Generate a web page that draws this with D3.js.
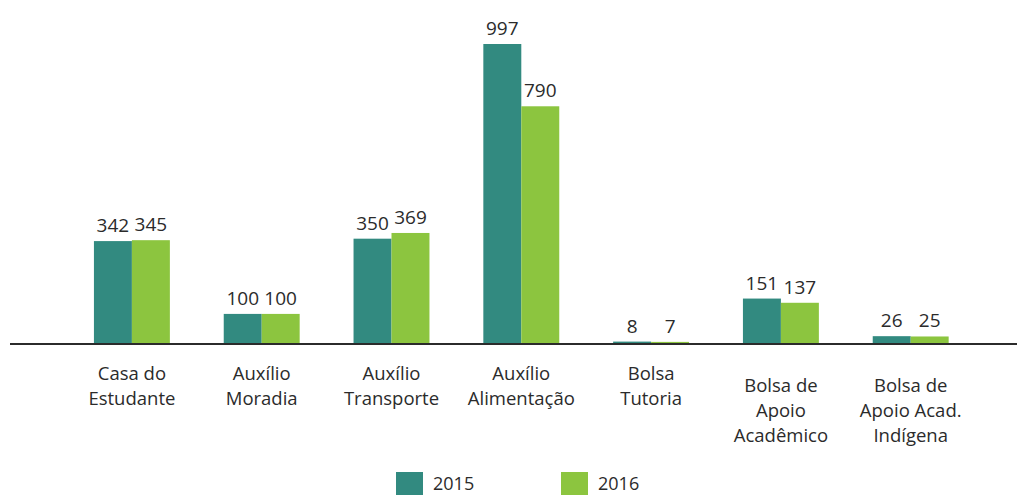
<!DOCTYPE html>
<html>
<head>
<meta charset="utf-8">
<script src="https://cdn.jsdelivr.net/npm/d3@7"></script>
<style>
  body { margin: 0; background: #fff; }
  svg text { font-family: "Open Sans", sans-serif; fill: #2b2b2b; }
</style>
</head>
<body>
<div id="chart"></div>
<script>
// categories (label lines) and values per year
const categories = [
  ['Casa do', 'Estudante'],
  ['Auxílio', 'Moradia'],
  ['Auxílio', 'Transporte'],
  ['Auxílio', 'Alimentação'],
  ['Bolsa', 'Tutoria'],
  ['Bolsa de', 'Apoio', 'Acadêmico'],
  ['Bolsa de', 'Apoio Acad.', 'Indígena']
];
const years = ['2015', '2016'];
const values2015 = [342, 100, 350, 997, 8, 151, 26];
const values2016 = [345, 100, 369, 790, 7, 137, 25];
const colors = ['#328a80', '#8cc53f'];

const width = 1017;
const height = 495;
const baseline = 344;

const svg = d3.select('#chart')
  .append('svg')
  .attr('width', width)
  .attr('height', height);

const keys = categories.map((c) => c.join(' '));
const x = d3.scaleBand()
  .domain(keys)
  .range([67, 975.6])
  .paddingInner(0.415)
  .paddingOuter(0.2075);
const xSub = d3.scaleBand().domain(years).range([0, x.bandwidth()]);
const y = d3.scaleLinear().domain([0, 997]).range([baseline, 44]);

const rows = keys.map((k, i) => ({ key: k, lines: categories[i], vals: [values2015[i], values2016[i]] }));

const groups = svg.append('g')
  .selectAll('g')
  .data(rows)
  .join('g')
  .attr('transform', (d) => `translate(${x(d.key)},0)`);

groups.selectAll('rect')
  .data((d) => d.vals.map((v, j) => ({ year: years[j], v, j })))
  .join('rect')
  .attr('x', (d) => xSub(d.year))
  .attr('y', (d) => y(d.v))
  .attr('width', xSub.bandwidth())
  .attr('height', (d) => baseline - y(d.v))
  .attr('fill', (d) => colors[d.j]);

groups.selectAll('text.val')
  .data((d) => d.vals.map((v, j) => ({ year: years[j], v })))
  .join('text')
  .attr('class', 'val')
  .attr('x', (d) => xSub(d.year) + xSub.bandwidth() / 2)
  .attr('y', (d) => y(d.v) - 9)
  .attr('text-anchor', 'middle')
  .style('font-size', '19px')
  .text((d) => d.v);

// axis line
svg.append('line')
  .attr('x1', 10).attr('x2', width)
  .attr('y1', baseline).attr('y2', baseline)
  .attr('stroke', '#2b2b2b')
  .attr('stroke-width', 2);

// category labels
groups.append('text')
  .attr('text-anchor', 'middle')
  .style('font-size', '18.5px')
  .attr('transform', (d) => `translate(${x.bandwidth() / 2},${d.lines.length > 2 ? 392 : 380})`)
  .selectAll('tspan')
  .data((d) => d.lines)
  .join('tspan')
  .attr('x', 0)
  .attr('dy', (d, i) => (i === 0 ? 0 : 25))
  .text((d) => d);

// legend
const legendX = [396, 561];
const legend = svg.append('g')
  .selectAll('g')
  .data(years)
  .join('g')
  .attr('transform', (d, i) => `translate(${legendX[i]},472)`);
legend.append('rect')
  .attr('width', 27).attr('height', 27)
  .attr('fill', (d, i) => colors[i]);
legend.append('text')
  .attr('x', 37).attr('y', 18)
  .style('font-size', '18px')
  .text((d) => d);
</script>
</body>
</html>
